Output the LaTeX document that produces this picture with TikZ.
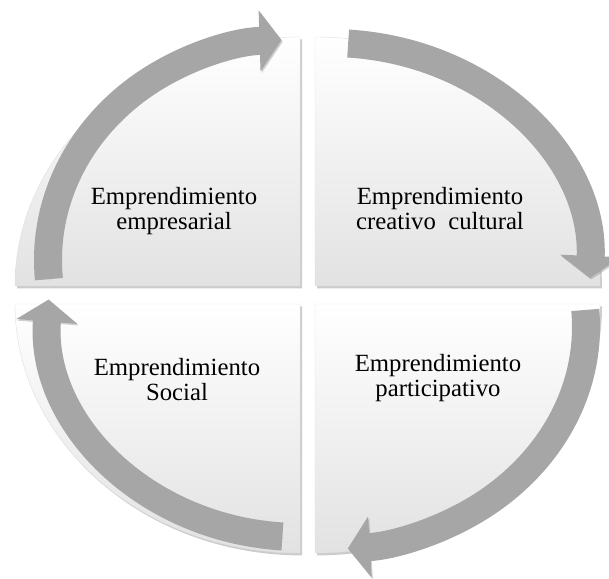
\documentclass[tikz,border=0pt]{standalone}
\usepackage{fontspec}
\setmainfont{Liberation Serif}
\usetikzlibrary{arrows.meta,shadows}
\definecolor{flecha}{HTML}{A6A6A6}
\definecolor{fondo}{HTML}{E2E2E2}
\begin{document}
\begin{tikzpicture}[x=0.025cm,y=0.025cm,
  cuadro/.style={top color=white, bottom color=fondo, draw=black!12, line width=0.3pt,
    drop shadow={shadow xshift=0.05cm, shadow yshift=-0.06cm, opacity=0.4}},
  ciclo/.style={draw=flecha, line width=0.7cm, -{Triangle[length=0.55cm, width=1.5cm]},
    preaction={draw=black!60, opacity=0.3, transform canvas={shift={(0.03cm,-0.04cm)}}}},
  texto/.style={align=center, inner sep=0pt, font=\fontsize{17.6}{17.8}\selectfont},
  ]
\useasboundingbox (0,0) rectangle (609,578);

% cuadrantes
\path[cuadro] (300,292) -- (15,292) arc[start angle=180, end angle=90, x radius=285, y radius=249] -- cycle;
\path[cuadro] (315,292) -- (315,541) arc[start angle=90, end angle=0, x radius=285, y radius=249] -- cycle;
\path[cuadro] (315,274) -- (600,274) arc[start angle=0, end angle=-90, x radius=285, y radius=249] -- cycle;
\path[cuadro] (300,274) -- (300,25) arc[start angle=270, end angle=180, x radius=285, y radius=249] -- cycle;

% flechas
\draw[ciclo] ([shift={(185:242 and 220)}]290,318) arc[start angle=185, end angle=92, x radius=242, y radius=220];
\draw[ciclo] ([shift={(86:260 and 227)}]330,308) arc[start angle=86, end angle=-2, x radius=260, y radius=227];
\draw[ciclo] ([shift={(4.4:256 and 222)}]330,251) arc[start angle=4.4, end angle=-86, x radius=256, y radius=222];
\draw[ciclo] ([shift={(266:252 and 222)}]300,263) arc[start angle=266, end angle=176, x radius=252, y radius=222];

\node[texto] (empresarial) at (174,367) {Emprendimiento\\empresarial};
\node[texto] (cultural) at (440,369) {Emprendimiento\\creativo\enspace cultural};
\node[texto] (participativo) at (438,200) {Emprendimiento\\participativo};
\node[texto] (social) at (177,198) {Emprendimiento\\Social};

\end{tikzpicture}
\end{document}
